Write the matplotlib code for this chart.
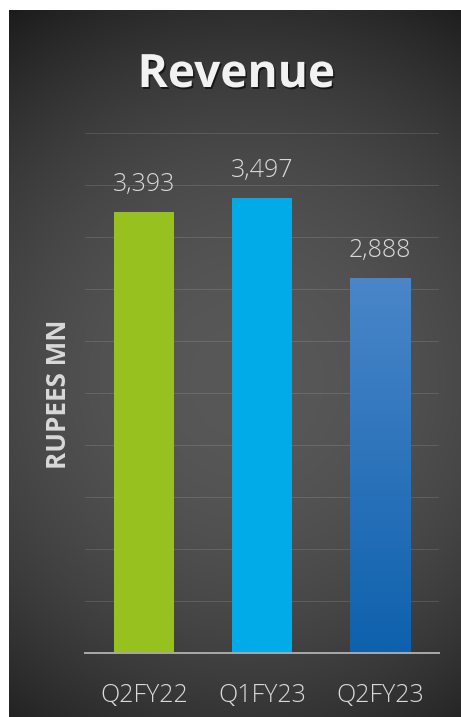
import numpy as np
import matplotlib
matplotlib.use("Agg")
import matplotlib.pyplot as plt
import matplotlib.patheffects as pe
from matplotlib.colors import LinearSegmentedColormap

# Revenue by quarter (Rupees Mn)
quarters = ["Q2FY22", "Q1FY23", "Q2FY23"]
revenue = [3393, 3497, 2888]
value_labels = ["3,393", "3,497", "2,888"]
bar_colors = ["#97c11f", "#00abe7", "none"]

W, H = 461, 717
DPI = 72
plt.rcParams["font.family"] = ["Open Sans", "DejaVu Sans"]

fig = plt.figure(figsize=(W / DPI, H / DPI), dpi=DPI)
fig.patch.set_facecolor("white")

# dark panel with a soft radial shading
bg = fig.add_axes([9 / W, 0, (W - 9) / W, (H - 10) / H])
yy, xx = np.mgrid[10:H, 9:W]
r = np.hypot((xx - 245) / 430, (yy - 380) / 440)
t = np.clip(r ** 2, 0, 1)
shade = (0x58 + (0x1c - 0x58) * t) / 255
bg.imshow(np.dstack([shade] * 3), aspect="auto", interpolation="bilinear")
bg.set_axis_off()

ax = fig.add_axes([85 / W, 64 / H, 354 / W, 520 / H])
ax.patch.set_alpha(0)

x = np.arange(len(quarters))
bars = ax.bar(x, revenue, width=0.51, color=bar_colors, zorder=2)
for b in bars:
    b.set_path_effects([pe.SimplePatchShadow(offset=(0, -1), shadow_rgbFace="black", alpha=0.25),
                        pe.Normal()])

# blue gradient fill for the last bar
b = bars[2]
b.set_path_effects([])
grad = np.linspace(0, 1, 256).reshape(-1, 1)
cmap = LinearSegmentedColormap.from_list("blues", ["#0e61ad", "#4a86c9"])
im = ax.imshow(grad, cmap=cmap, aspect="auto", origin="lower", zorder=2,
               extent=(b.get_x(), b.get_x() + b.get_width(), 0, b.get_height()))
im.set_clip_path(b)

for i, (v, lab) in enumerate(zip(revenue, value_labels)):
    ax.annotate(lab, (i, v), xytext=(0, 21), textcoords="offset points",
                ha="center", va="baseline", fontsize=25, fontweight="light",
                color="#d9d9d9")

ax.set_xlim(-0.5, 2.5)
ax.set_ylim(0, 4000)
ax.set_yticks(np.arange(0, 4001, 400))
ax.yaxis.grid(True, color="white", alpha=0.12, lw=1)
ax.set_axisbelow(True)
for s in ["top", "right", "left"]:
    ax.spines[s].set_visible(False)
ax.spines["bottom"].set_color("#a6a6a6")
ax.spines["bottom"].set_linewidth(2)
ax.spines["bottom"].set_zorder(3)
ax.set_xticks(x)
ax.set_xticklabels(quarters, fontweight="light")
ax.tick_params(axis="y", length=0, labelleft=False)
ax.tick_params(axis="x", length=0, pad=30, labelsize=25, labelcolor="#d9d9d9")

fig.text(236.5 / W, (H - 87) / H, "Revenue", ha="center", va="baseline",
         fontsize=46, fontweight="bold", color="#f2f2f2",
         path_effects=[pe.withSimplePatchShadow(offset=(1.5, -2), shadow_rgbFace="black", alpha=0.6)])
fig.text(58 / W, (H - 394) / H, "RUPEES MN", rotation=90, ha="center", va="center",
         fontsize=26, fontweight="bold", color="#d9d9d9")

fig.savefig("out.png", dpi=DPI)
